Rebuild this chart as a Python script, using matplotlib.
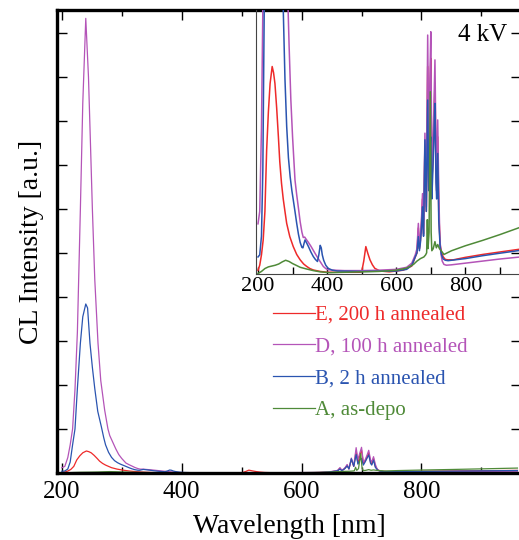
import numpy as np
import matplotlib.pyplot as plt

plt.rcParams['font.family'] = ['Liberation Serif', 'DejaVu Serif']

# cathodoluminescence spectra, 4 kV excitation (wavelength in nm, intensity in a.u.)
wl_E = [200, 205, 210, 215, 220, 225, 230, 235, 241, 245, 249, 254, 259, 263, 268, 273, 278,
        283, 292, 302, 312, 322, 332, 341, 350, 360, 380, 400, 450, 495, 500, 506, 512, 518,
        524, 531, 538, 553, 580, 620, 645, 655, 660, 664, 667, 670, 673, 676, 679, 683, 687,
        691, 694, 697, 700, 703, 706, 709, 712, 715, 717, 720, 723, 727, 731, 736, 742, 750,
        765, 800, 850, 900, 960]
int_E = [0.008, 0.02, 0.045, 0.081, 0.15, 0.298, 0.39, 0.459, 0.50, 0.485, 0.459, 0.40, 0.33,
         0.27, 0.218, 0.18, 0.15, 0.121, 0.089, 0.065, 0.046, 0.033, 0.023, 0.017, 0.012,
         0.0085, 0.005, 0.003, 0.003, 0.003, 0.004, 0.03, 0.065, 0.048, 0.033, 0.021, 0.0125,
         0.006, 0.004, 0.008, 0.018, 0.04, 0.05, 0.11, 0.06, 0.08, 0.12, 0.18, 0.095, 0.31,
         0.15, 0.50, 0.22, 0.40, 0.52, 0.22, 0.27, 0.36, 0.46, 0.25, 0.20, 0.33, 0.15, 0.07,
         0.05, 0.04, 0.034, 0.033, 0.033, 0.039, 0.046, 0.052, 0.059]

wl_D = [200, 205, 210, 214, 218, 222, 226, 231, 235, 240, 244.5, 248, 251, 255, 260.4, 265,
        271.5, 277, 280, 285, 290, 295, 300, 307, 312, 317, 322, 327, 331, 335, 340, 346, 353,
        360, 367, 375, 382, 389, 396, 403, 420, 450, 500, 550, 600, 630, 645, 655, 660, 664,
        667, 670, 673, 676, 679, 683, 687, 691, 694, 697, 700, 703, 706, 709, 712, 715, 717,
        720, 723, 726, 729, 733, 738, 745, 760, 800, 850, 900, 960]
int_D = [0.12, 0.15, 0.35, 0.64, 1.0, 1.9, 3.2, 6.0, 8.4, 10.33, 9.0, 7.4, 6.0, 4.4, 2.95,
         2.1, 1.43, 1.0, 0.85, 0.70, 0.55, 0.42, 0.33, 0.226, 0.19, 0.158, 0.125, 0.10, 0.087,
         0.088, 0.082, 0.075, 0.066, 0.056, 0.046, 0.035, 0.026, 0.017, 0.012, 0.009, 0.008,
         0.007, 0.007, 0.008, 0.010, 0.015, 0.025, 0.045, 0.06, 0.121, 0.065, 0.09, 0.13,
         0.193, 0.097, 0.339, 0.161, 0.576, 0.30, 0.45, 0.584, 0.25, 0.30, 0.40, 0.516, 0.30,
         0.25, 0.371, 0.20, 0.09, 0.05, 0.03, 0.022, 0.02, 0.021, 0.025, 0.030, 0.035, 0.040]

wl_B = [200, 205, 210, 214, 218, 222, 226, 231, 235, 240, 243, 247, 251, 255, 260, 266, 270,
        273, 278, 283, 288, 293, 298, 302, 307, 312, 317, 322, 327, 330, 333, 336, 340, 346,
        353, 360, 366, 372, 376, 380, 383, 386, 390, 396, 403, 415, 430, 500, 600, 630, 645,
        655, 660, 664, 667, 670, 673, 676, 679, 683, 687, 691, 694, 697, 700, 703, 706, 709,
        712, 715, 717, 720, 723, 727, 731, 736, 742, 750, 800, 850, 900, 960]
int_B = [0.04, 0.045, 0.09, 0.25, 0.64, 1.0, 1.92, 2.95, 3.55, 3.84, 3.75, 2.95, 2.4, 1.92,
         1.4, 1.05, 0.80, 0.64, 0.47, 0.355, 0.28, 0.234, 0.20, 0.178, 0.15, 0.121, 0.095,
         0.075, 0.063, 0.062, 0.072, 0.081, 0.075, 0.065, 0.052, 0.041, 0.034, 0.029, 0.045,
         0.068, 0.062, 0.045, 0.032, 0.02, 0.0125, 0.008, 0.006, 0.005, 0.006, 0.010, 0.02,
         0.04, 0.05, 0.089, 0.055, 0.075, 0.11, 0.161, 0.09, 0.323, 0.15, 0.419, 0.20, 0.30,
         0.33, 0.18, 0.25, 0.33, 0.411, 0.22, 0.18, 0.29, 0.129, 0.065, 0.045, 0.035, 0.032,
         0.031, 0.036, 0.043, 0.049, 0.056]

wl_A = [200, 210, 220, 230, 240, 250, 260, 270, 280, 290, 300, 310, 322, 340, 360, 380, 408,
        450, 500, 550, 600, 630, 650, 660, 670, 680, 685, 688, 690, 692, 695, 698.5, 701, 703,
        707, 712, 716, 720, 725, 731, 738, 760, 800, 850, 900, 960]
int_A = [0.0, 0.005, 0.012, 0.016, 0.018, 0.02, 0.023, 0.028, 0.032, 0.029, 0.024, 0.02,
         0.015, 0.011, 0.007, 0.004, 0.002, 0.003, 0.004, 0.005, 0.008, 0.013, 0.022, 0.03,
         0.036, 0.04, 0.045, 0.05, 0.13, 0.06, 0.10, 0.439, 0.10, 0.055, 0.06, 0.077, 0.062,
         0.07, 0.06, 0.054, 0.046, 0.055, 0.067, 0.08, 0.094, 0.112]

labels = ['E, 200 h annealed', 'D, 100 h annealed', 'B, 2 h annealed', 'A, as-depo']
colors = ['#ee2a2a', '#b454b8', '#2a54b0', '#4f8a38']
series = [(wl_E, int_E), (wl_D, int_D), (wl_B, int_B), (wl_A, int_A)]

fig = plt.figure(figsize=(5.19, 5.40), dpi=100)
W, H = 519.0, 540.0

# main axes, right edge runs just past the figure border
ax = fig.add_axes([57 / W, (H - 473) / H, (521 - 57) / W, (473 - 10) / H])
lines = []
for (x, y), c, lab in zip(series, colors, labels):
    ln, = ax.plot(x, y, color=c, lw=0.9, label=lab)
    lines.append(ln)

ax.set_xlim(192, 966)
ax.set_ylim(0, 10.52)
ax.set_xticks([200, 400, 600, 800])
ax.set_xticks([300, 500, 700, 900], minor=True)
ax.set_yticks(np.arange(0, 11, 1))
ax.set_yticklabels([])
ax.tick_params(axis='both', which='major', direction='in', length=7, width=1.0,
               top=True, right=True, labelsize=18, pad=6)
ax.tick_params(axis='both', which='minor', direction='in', length=4, width=1.0,
               top=True, right=True)
for side in ['left', 'bottom', 'top']:
    ax.spines[side].set_linewidth(2.4)
ax.spines['right'].set_visible(False)
ax.set_xlabel('Wavelength [nm]', fontsize=20, labelpad=8)
ax.set_ylabel('CL Intensity [a.u.]', fontsize=20, labelpad=3)

leg = ax.legend(handles=lines, loc='upper left', bbox_to_anchor=(0.4665, 0.362),
                frameon=False, fontsize=15, handlelength=2.0, handletextpad=0.0,
                labelspacing=0.58, borderpad=0, borderaxespad=0)
for txt, ln in zip(leg.get_texts(), lines):
    txt.set_color(ln.get_color())

ax.text(0.865, 0.945, '4 kV', transform=ax.transAxes, fontsize=18, ha='left', va='center')

# zoomed view of the low-intensity range
axin = fig.add_axes([256 / W, (H - 274) / H, (521 - 256) / W, (274 - 10) / H])
axin.patch.set_alpha(0)
for (x, y), c in zip(series, colors):
    axin.plot(x, y, color=c, lw=1.1)
axin.set_xlim(194.2, 961)
axin.set_ylim(-0.0012, 0.6365)
axin.set_xticks([200, 400, 600, 800])
axin.set_xticks([300, 500, 700, 900], minor=True)
axin.set_yticks([])
axin.tick_params(axis='x', which='both', direction='in', length=5, width=1.0,
                 labelsize=16, pad=2)
axin.spines['top'].set_visible(False)
axin.spines['right'].set_visible(False)
for side in ['left', 'bottom']:
    axin.spines[side].set_linewidth(0.8)
    axin.spines[side].set_color('#444444')

fig.savefig('out.png', dpi=100)
